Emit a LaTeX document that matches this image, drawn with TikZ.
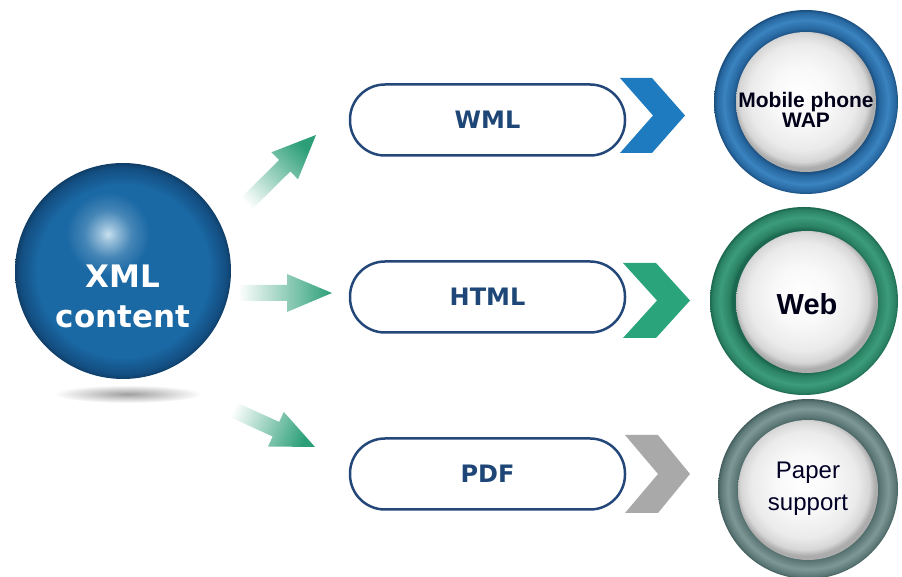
\documentclass[tikz,border=0pt]{standalone}
\usepackage{fontspec}
\setmainfont{DejaVu Sans}
\newfontfamily\arialfont{Liberation Sans}
\definecolor{pillblue}{HTML}{24477A}
\definecolor{pilltext}{HTML}{1E4777}
\definecolor{arrgreen}{HTML}{2C9F78}
\definecolor{chevblue}{HTML}{1F7BC0}
\definecolor{chevgreen}{HTML}{2AA57B}
\definecolor{chevgray}{HTML}{A9A9A9}
\definecolor{sphmain}{HTML}{1A68A4}
\definecolor{sphedge}{HTML}{134D80}
\definecolor{sphhi}{HTML}{C8E0EF}
\definecolor{rbdark}{HTML}{1A4E7E}
\definecolor{rbmid}{HTML}{2767A0}
\definecolor{rblight}{HTML}{3A84C0}
\definecolor{rgdark}{HTML}{1C6750}
\definecolor{rgmid}{HTML}{2A8263}
\definecolor{rglight}{HTML}{3C9C7B}
\definecolor{rydark}{HTML}{445E5E}
\definecolor{rymid}{HTML}{5A7675}
\definecolor{rylight}{HTML}{7E9896}
\pgfdeclareradialshading{xmlball}{\pgfpoint{0bp}{0bp}}{color(0bp)=(sphmain); color(20bp)=(sphmain); color(24bp)=(sphedge); color(25bp)=(sphedge!80!black); color(50bp)=(sphedge!80!black)}
\pgfdeclareradialshading{xmlhi}{\pgfpoint{0bp}{0bp}}{color(0bp)=(sphhi); color(5bp)=(sphhi!70!sphmain); color(14bp)=(sphhi!25!sphmain); color(25bp)=(sphmain); color(50bp)=(sphmain)}
\pgfdeclareradialshading{ringblue}{\pgfpoint{0bp}{0bp}}{color(0bp)=(rbdark); color(19bp)=(rbdark); color(20bp)=(rbmid); color(22.3bp)=(rblight); color(24.3bp)=(rbmid); color(25bp)=(rbdark); color(50bp)=(rbdark)}
\pgfdeclareradialshading{ringgreen}{\pgfpoint{0bp}{0bp}}{color(0bp)=(rgdark); color(19bp)=(rgdark); color(20bp)=(rgmid); color(22.3bp)=(rglight); color(24.3bp)=(rgmid); color(25bp)=(rgdark); color(50bp)=(rgdark)}
\pgfdeclareradialshading{ringgray}{\pgfpoint{0bp}{0bp}}{color(0bp)=(rydark); color(19bp)=(rydark); color(20bp)=(rymid); color(22.3bp)=(rylight); color(24.3bp)=(rymid); color(25bp)=(rydark); color(50bp)=(rydark)}
\pgfdeclareradialshading{discw}{\pgfpoint{-2bp}{3bp}}{color(0bp)=(white); color(10bp)=(gray!5); color(19bp)=(gray!16); color(23bp)=(gray!32); color(25bp)=(gray!65); color(50bp)=(gray!65)}
\tikzset{
  pill/.style={draw=pillblue, line width=2.5pt, rounded corners=35pt, minimum width=275pt, minimum height=71pt, inner sep=0pt, text=pilltext, font=\bfseries\fontsize{24}{28}\selectfont},
  ringnode/.style={circle, minimum size=184pt, inner sep=0pt, shade},
  discnode/.style={circle, minimum size=140pt, inner sep=0pt, shade, shading=discw},
}
\begin{document}
\begin{tikzpicture}[x=1pt,y=1pt]
\useasboundingbox (0,0) rectangle (902,577);
% sphere shadow
\shade[inner color=gray!75, outer color=white] (128,183) ellipse (74 and 9);
% sphere
\node[circle, minimum size=216pt, inner sep=0pt, shade, shading=xmlball] (xml) at (123,306) {};
\shade[shading=xmlhi] (108,343) circle (42);
\node[text=white, align=center, font=\bfseries\fontsize{31}{40}\selectfont] (xmlt) at (123,281) {XML\\content};
% pills
\node[pill] (wml) at (487.5,457) {WML};
\node[pill] (html) at (487.5,280) {HTML};
\node[pill] (pdf) at (487.5,103) {PDF};
% arrows
\coordinate (a1) at (240,367);
\coordinate (a2) at (238,284);
\coordinate (a3) at (227,170);
\shade[left color=white, right color=arrgreen, shading angle=134.6] (245.6,361.3) -- (290.3,405.5) -- (298,397.7) -- (316,442) -- (271.4,424.7) -- (279.1,416.9) -- (234.4,372.7) -- cycle;
\shade[left color=white, right color=arrgreen, shading angle=90] (238,276) -- (287,276) -- (287,265) -- (332,284) -- (287,303) -- (287,292) -- (238,292) -- cycle;
\shade[left color=white, right color=arrgreen, shading angle=65.5] (230,177.5) -- (279.2,155.1) -- (283.8,165.1) -- (315,130) -- (268,130.5) -- (272.6,140.5) -- (223.4,162.9) -- cycle;
% chevrons
\fill[chevblue] (620,499) -- (652,499) -- (685,461.5) -- (652,424) -- (620,424) -- (653,461.5) -- cycle;
\fill[chevgreen] (623,314) -- (656,314) -- (690,276.5) -- (656,239) -- (623,239) -- (657,276.5) -- cycle;
\fill[chevgray] (625,142) -- (658,142) -- (690,103) -- (658,64) -- (625,64) -- (658,103) -- cycle;
% ring circles
\node[ringnode, shading=ringblue] (mob) at (806,475) {};
\node[discnode] (mobd) at (806,475) {};
\node[align=center, text=black!90!blue, font=\arialfont\bfseries\fontsize{21}{20}\selectfont] (mobt) at (806,467) {Mobile phone\\WAP};
\node[ringnode, shading=ringgreen, minimum size=188pt] (web) at (804,276) {};
\node[discnode, minimum size=142pt] (webd) at (807,275) {};
\node[text=black!90!blue, font=\arialfont\bfseries\fontsize{29}{32}\selectfont] (webt) at (807,273) {Web};
\node[ringnode, shading=ringgray, minimum size=180pt] (pap) at (808,88) {};
\node[discnode] (papd) at (808,87) {};
\node[align=center, text=black!85!blue, font=\arialfont\fontsize{24}{32}\selectfont] (papt) at (808,88) {Paper\\support};
\end{tikzpicture}
\end{document}
